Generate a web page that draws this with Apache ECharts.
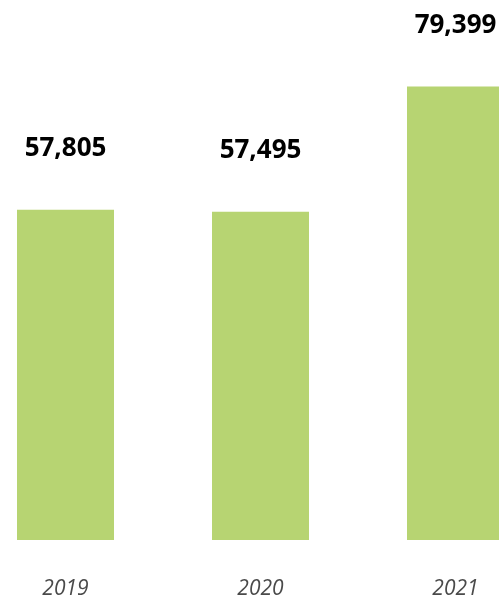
<!DOCTYPE html>
<html>
<head>
<meta charset="utf-8">
<script src="https://cdn.jsdelivr.net/npm/echarts@6/dist/echarts.min.js"></script>
<style>html,body{margin:0;padding:0;background:#fff;overflow:hidden;width:499px;height:600px}#c{width:585px;height:600px;margin-left:-32px}</style>
</head>
<body>
<div id="c"></div>
<script>
const categories = ['2019', '2020', '2021'];
const values = [57805, 57495, 79399];

const chart = echarts.init(document.getElementById('c'), null, {renderer: 'canvas'});
chart.setOption({
  animation: false,
  grid: {left: 0, right: 0, top: 26, bottom: 60},
  xAxis: {
    type: 'category',
    data: categories,
    axisLine: {show: false},
    axisTick: {show: false},
    axisLabel: {
      margin: 39,
      fontFamily: 'Open Sans',
      fontStyle: 'italic',
      fontSize: 21,
      color: '#4a4a4a'
    }
  },
  yAxis: {
    type: 'value',
    min: 0,
    max: 90000,
    show: false,
    splitLine: {show: false}
  },
  series: [{
    type: 'bar',
    data: values,
    barWidth: 97,
    itemStyle: {color: '#b7d472'},
    label: {
      show: true,
      position: 'top',
      distance: 48,
      fontFamily: 'Open Sans',
      fontWeight: 'bold',
      fontSize: 26,
      color: '#000',
      formatter: p => p.value.toLocaleString('en-US')
    }
  }]
});
</script>
</body>
</html>
